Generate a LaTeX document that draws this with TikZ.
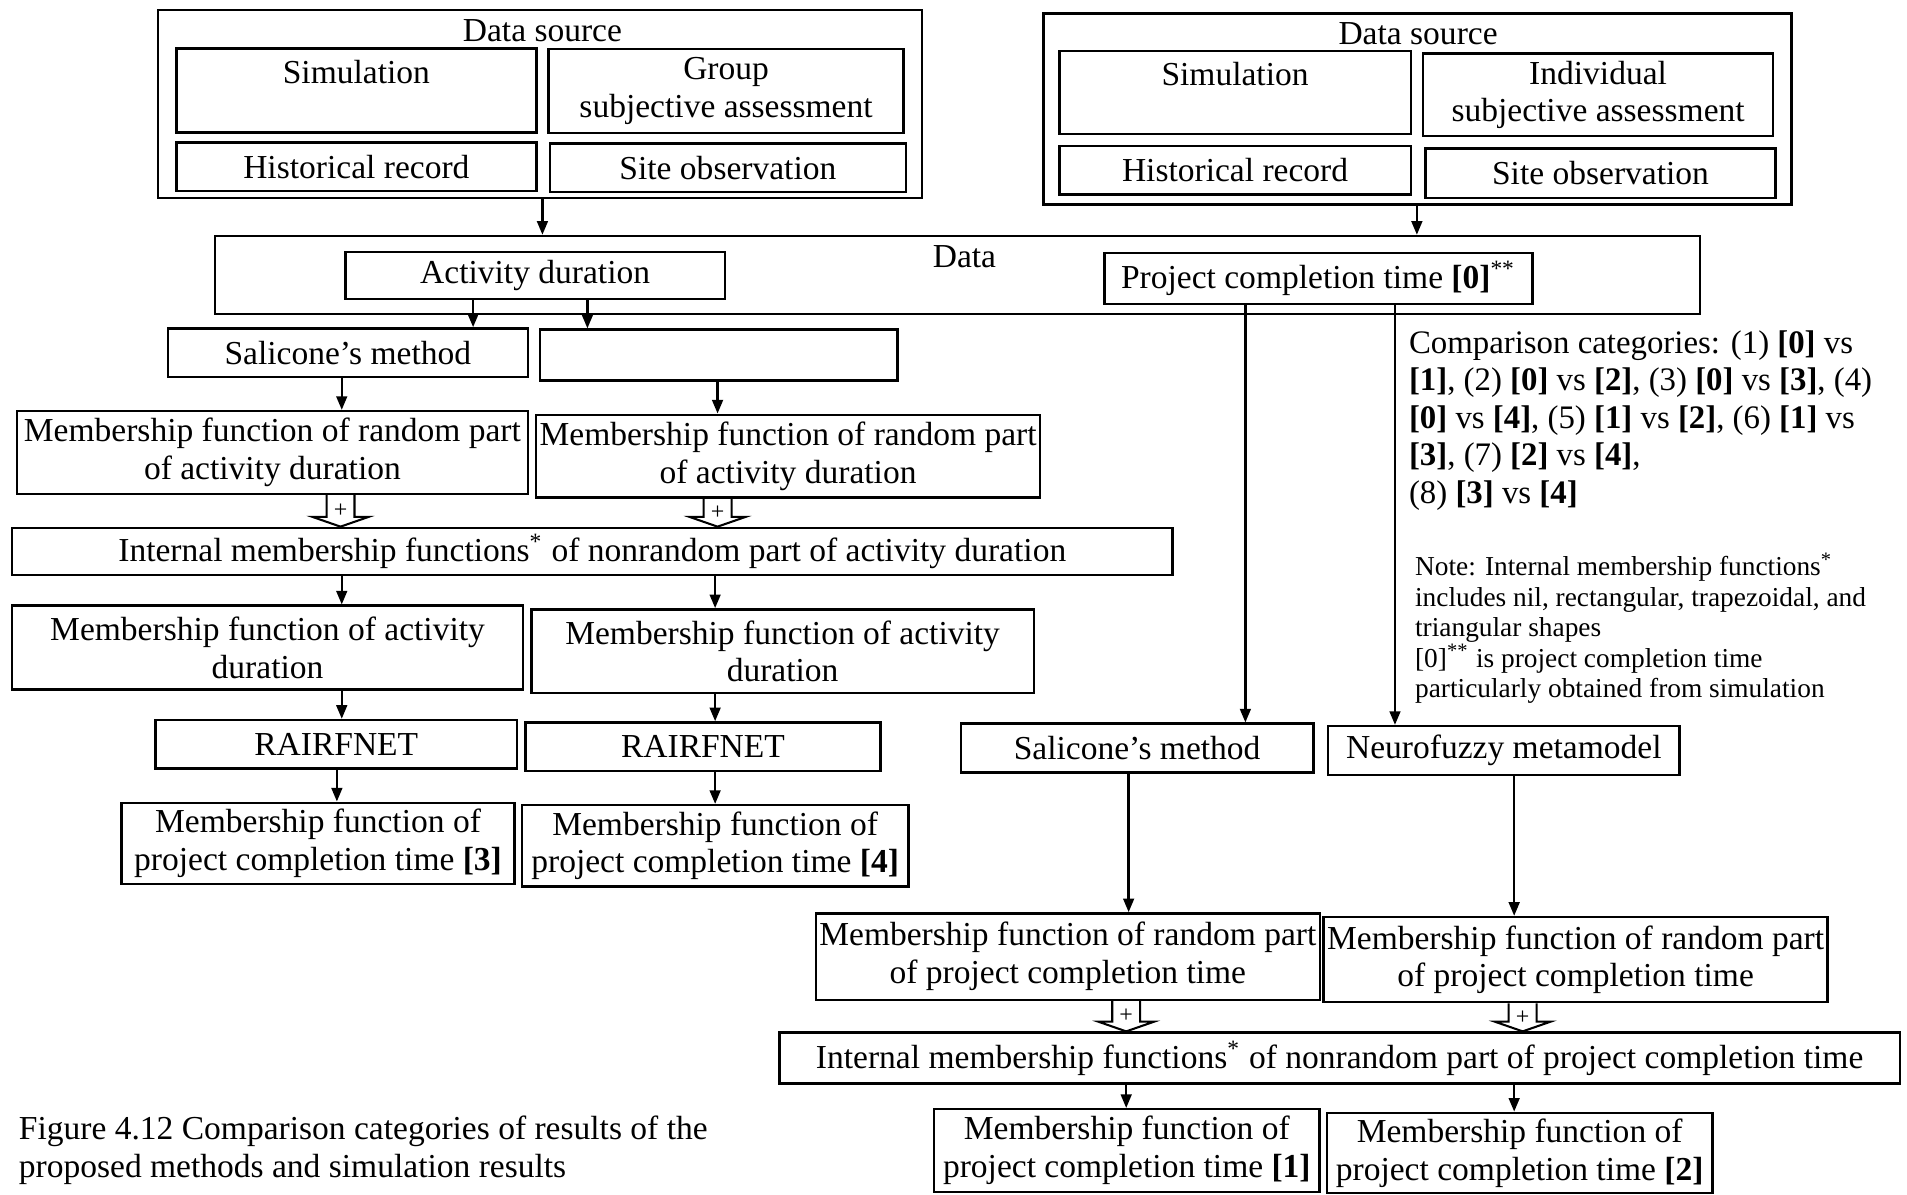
\documentclass[tikz,border=0pt]{standalone}
\usepackage{fontspec}
\setmainfont{Liberation Serif}
\usetikzlibrary{arrows.meta,calc}

\tikzset{
  blk/.style={draw, line width=0.7pt, align=center, inner sep=1pt},
  bw/.style={minimum width=#1*0.125mm},
  bh/.style={minimum height=#1*0.125mm},
  arr/.style={line width=0.7pt, -{Triangle[length=1.4mm,width=1.1mm]}},
}

\begin{document}
\begin{tikzpicture}[x=0.125mm, y=-0.125mm, font=\fontsize{9.8}{11}\selectfont]
    \useasboundingbox (0,0) rectangle (1568,982);

    % Data source for activity duration
    \node[blk, bw=628, bh=155] (src1) at (444,85.5) {};
    \node (src1t) at (446,25) {Data source};
    \node[blk, bw=296, bh=69] (sim1) at (293,74.5) {Simulation\\ \mbox{}};
    \node[blk, bw=292, bh=69] (grp) at (597,75) {Group\\ subjective assessment};
    \node[blk, bw=296, bh=40] (hist1) at (293,137) {Historical record};
    \node[blk, bw=293, bh=40] (site1) at (598.5,138) {Site observation};

    % Data source for project completion time
    \node[blk, bw=615, bh=157] (src2) at (1165.5,89.5) {};
    \node (src2t) at (1166,28) {Data source};
    \node[blk, bw=289, bh=68] (sim2) at (1015.5,76) {Simulation\\ \mbox{}};
    \node[blk, bw=288, bh=68] (ind) at (1314,78) {Individual\\ subjective assessment};
    \node[blk, bw=289, bh=40] (hist2) at (1015.5,140) {Historical record};
    \node[blk, bw=288, bh=41] (site2) at (1316,142.5) {Site observation};

    % Data
    \node[blk, bw=1221, bh=64] (data) at (787.5,226) {};
    \node (datat) at (793,211) {Data};
    \node[blk, bw=312, bh=39] (actd) at (440,226.5) {Activity duration};
    \node[blk, bw=352, bh=42] (pct0) at (1084,229) {Project completion time \textbf{[0]}\textsuperscript{**}};

    % Left branch: activity duration
    \node[blk, bw=296, bh=40] (sala) at (286,290) {Salicone's method};
    \node[blk, bw=294, bh=42] (emp) at (591,292) {};
    \node[blk, bw=420, bh=68] (mfra) at (224,372) {Membership function of random part\\ of activity duration};
    \node[blk, bw=412, bh=68] (mfrb) at (648,375) {Membership function of random part\\ of activity duration};
    \node[blk, bw=954, bh=39] (inta) at (487,453.5) {Internal membership functions\textsuperscript{*} of nonrandom part of activity duration};
    \node[blk, bw=420, bh=69] (mfaa) at (220,532.5) {Membership function of activity\\ duration};
    \node[blk, bw=413, bh=69] (mfab) at (643.5,535.5) {Membership function of activity\\ duration};
    \node[blk, bw=297, bh=40] (raia) at (276.5,612) {RAIRFNET};
    \node[blk, bw=292, bh=40] (raib) at (578,614) {RAIRFNET};
    \node[blk, bw=323, bh=67] (pc3) at (261.5,693.5) {Membership function of\\ project completion time \textbf{[3]}};
    \node[blk, bw=318, bh=67] (pc4) at (588,695.5) {Membership function of\\ project completion time \textbf{[4]}};

    % Right branch: project completion time
    \node[blk, bw=290, bh=40] (salb) at (935,615) {Salicone's method};
    \node[blk, bw=289, bh=40] (nfm) at (1236.5,617) {Neurofuzzy metamodel};
    \node[blk, bw=410, bh=71] (mfrc) at (878,786.5) {Membership function of random part\\ of project completion time};
    \node[blk, bw=409, bh=70] (mfrd) at (1295.5,789) {Membership function of random part\\ of project completion time};
    \node[blk, bw=921, bh=42] (intb) at (1101.5,870) {Internal membership functions\textsuperscript{*} of nonrandom part of project completion time};
    \node[blk, bw=317, bh=68] (pc1) at (926.5,946) {Membership function of\\ project completion time \textbf{[1]}};
    \node[blk, bw=317, bh=66] (pc2) at (1249.5,948) {Membership function of\\ project completion time \textbf{[2]}};

    % Arrows
    \foreach \ax/\aa/\ab in {446/src1/data, 1165/src2/data, 389/actd/sala, 483/actd/emp,
        281/sala/mfra, 590/emp/mfrb, 281/inta/mfaa, 588/inta/mfab, 281/mfaa/raia,
        588/mfab/raib, 277/raia/pc3, 588/raib/pc4, 1024/pct0/salb, 1147/pct0/nfm,
        928/salb/mfrc, 1245/nfm/mfrd, 926/intb/pc1, 1245/intb/pc2}
        \draw[arr] (\aa.south -| \ax,0) -- (\ab.north -| \ax,0);

    % Open arrows with plus sign
    \foreach \px/\pa/\pb [count=\i] in {280/mfra/inta, 590/mfrb/inta, 926/mfrc/intb, 1252/mfrd/intb} {
        \coordinate (pt\i) at (\pa.south -| \px,0);
        \coordinate (pb\i) at (\pb.north -| \px,0);
        \draw[line width=0.6pt] ($(pt\i)+(-11.5,0)$) -- ($(pb\i)+(-11.5,-8)$) -- ++(-11.5,0) -- (pb\i)
            -- ++(23,-8) -- ++(-11.5,0) -- ($(pt\i)+(11.5,0)$);
        \node[inner sep=0pt, font=\fontsize{7}{7}\selectfont] (plus\i) at ($(pt\i)!0.5!(pb\i)$) {+};
    }

    % Comparison categories and note
    \node[align=left, anchor=north west, inner sep=0pt, font=\fontsize{9.6}{11}\selectfont] (cmp) at (1158,271)
        {Comparison categories: (1) \textbf{[0]} vs\\
         \textbf{[1]}, (2) \textbf{[0]} vs \textbf{[2]}, (3) \textbf{[0]} vs \textbf{[3]}, (4)\\
         \textbf{[0]} vs \textbf{[4]}, (5) \textbf{[1]} vs \textbf{[2]}, (6) \textbf{[1]} vs\\
         \textbf{[3]}, (7) \textbf{[2]} vs \textbf{[4]},\\
         (8) \textbf{[3]} vs \textbf{[4]}};
    \node[align=left, anchor=north west, inner sep=0pt, font=\fontsize{8}{8.9}\selectfont] (note) at (1163,454)
        {Note: Internal membership functions\textsuperscript{*}\\
         includes nil, rectangular, trapezoidal, and\\
         triangular shapes\\
         {[0]}\textsuperscript{**} is project completion time\\
         particularly obtained from simulation};

    % Caption
    \node[align=left, anchor=north west, inner sep=0pt] (cap) at (15,917)
        {Figure 4.12 Comparison categories of results of the\\
         proposed methods and simulation results};
\end{tikzpicture}
\end{document}
